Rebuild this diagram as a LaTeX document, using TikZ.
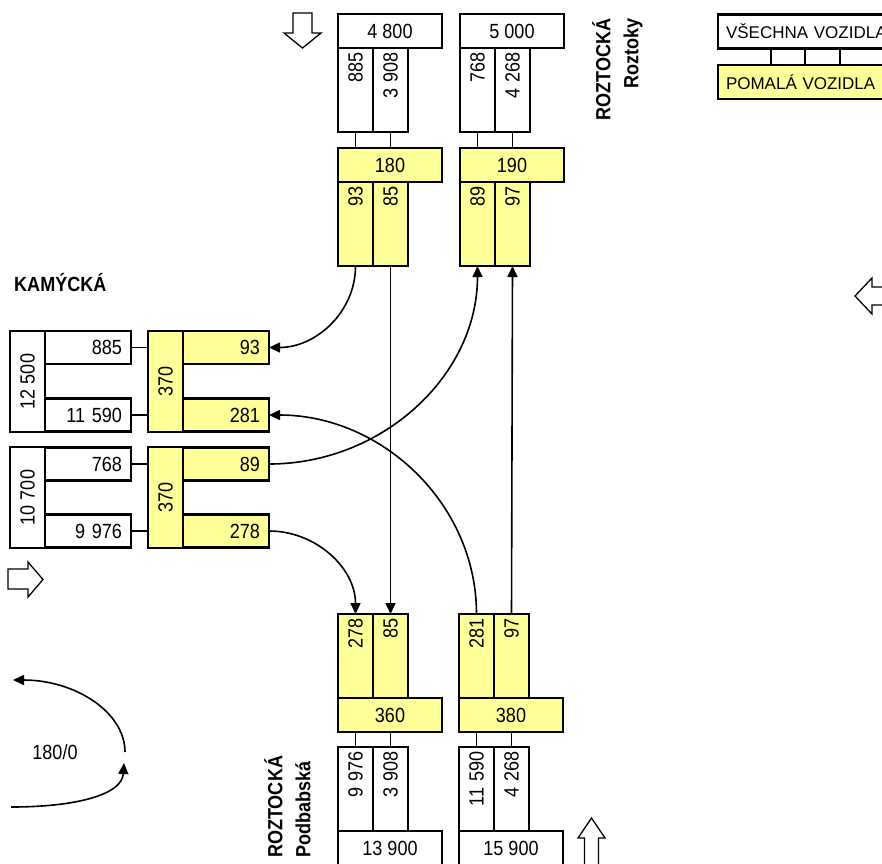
\documentclass[tikz,border=0pt]{standalone}
\usepackage{fontspec}
\setmainfont{Liberation Sans}[FakeStretch=0.88]
\newfontfamily\legendfont{Liberation Sans}
\usetikzlibrary{arrows.meta}
\definecolor{slowyel}{RGB}{255,255,153}
\newcommand{\numsize}{\fontsize{20.5}{24}\selectfont}

\begin{document}
\begin{tikzpicture}[x=1pt, y=-1pt,
    box/.style={draw, line width=2.1pt, outer sep=0pt, inner sep=0pt, font=\numsize},
    head/.style={box, minimum width=104pt, minimum height=34pt},
    col/.style={box, rotate=90, minimum height=35pt, text width=76pt, align=right, inner xsep=4pt},
    row/.style={box, minimum height=33pt, text width=68pt, align=right, inner xsep=9pt},
    tall/.style={box, rotate=90, minimum width=101pt, minimum height=35pt},
    legend/.style={box, minimum height=34pt, text width=190pt, align=left, inner xsep=8pt,
                   font=\legendfont\fontsize{17}{20}\selectfont},
    yel/.style={fill=slowyel},
    wht/.style={fill=white},
    link/.style={line width=1.8pt},
    flow/.style={line width=1.6pt, -{Triangle[length=11pt, width=10pt]}},
    hollow/.style={draw, line width=1.3pt, fill=white},
    street/.style={font=\bfseries\fontsize{20.5}{28}\selectfont, inner sep=0pt}
]
\useasboundingbox (0,0) rectangle (882,863);
\clip (0,0) rectangle (882,863);
% x of the left edges of the four groups
\def\xA{338}   % Roztoky, left
\def\xB{460}   % Roztoky, right
\def\xC{338}   % Podbaba, left
\def\xD{459}   % Podbaba, right

% Roztoky groups (top)
\node[head, wht] (tlH) at (\xA+52, 31) {4 800};
\node[col, wht] (tlW1) at (\xA+17.5, 90) {885};
\node[col, wht] (tlW2) at (\xA+52.5, 90) {3 908};
\node[head, yel] (tlY) at (\xA+52, 165) {180};
\node[col, yel] (tlY1) at (\xA+17.5, 224) {93};
\node[col, yel] (tlY2) at (\xA+52.5, 224) {85};

\node[head, wht] (trH) at (\xB+52, 31) {5 000};
\node[col, wht] (trW1) at (\xB+17.5, 90) {768};
\node[col, wht] (trW2) at (\xB+52.5, 90) {4 268};
\node[head, yel] (trY) at (\xB+52, 165) {190};
\node[col, yel] (trY1) at (\xB+17.5, 224) {89};
\node[col, yel] (trY2) at (\xB+52.5, 224) {97};

\foreach \c/\h in {tlW1/tlY, tlW2/tlY, trW1/trY, trW2/trY}
    \draw[link] (\c.west) -- (\c.west |- \h.north);

% Podbaba groups (bottom)
\node[col, yel] (blY1) at (\xC+17.5, 656) {278};
\node[col, yel] (blY2) at (\xC+52.5, 656) {85};
\node[head, yel] (blY) at (\xC+52, 715) {360};
\node[col, wht] (blW1) at (\xC+17.5, 789) {9 976};
\node[col, wht] (blW2) at (\xC+52.5, 789) {3 908};
\node[head, wht] (blH) at (\xC+52, 848) {13 900};

\node[col, yel] (brY1) at (\xD+17.5, 656) {281};
\node[col, yel] (brY2) at (\xD+52.5, 656) {97};
\node[head, yel] (brY) at (\xD+52, 715) {380};
\node[col, wht] (brW1) at (\xD+17.5, 789) {11 590};
\node[col, wht] (brW2) at (\xD+52.5, 789) {4 268};
\node[head, wht] (brH) at (\xD+52, 848) {15 900};

\foreach \c/\h in {blW1/blY, blW2/blY, brW1/brY, brW2/brY}
    \draw[link] (\c.east) -- (\c.east |- \h.south);

% Kamycka groups (left)
\node[tall, wht] (kaW) at (27.5, 381.5) {12 500};
\node[row, wht] (kaW1) at (88, 347.5) {885};
\node[row, wht] (kaW2) at (88, 415) {11 590};
\node[tall, yel] (kaY) at (165.5, 381.5) {370};
\node[row, yel] (kaY1) at (226, 347.5) {93};
\node[row, yel] (kaY2) at (226, 415) {281};

\node[tall, wht] (kbW) at (27.5, 497.5) {10 700};
\node[row, wht] (kbW1) at (88, 464) {768};
\node[row, wht] (kbW2) at (88, 531) {9 976};
\node[tall, yel] (kbY) at (165.5, 497.5) {370};
\node[row, yel] (kbY1) at (226, 464) {89};
\node[row, yel] (kbY2) at (226, 531) {278};

% the tall boxes are turned, so their left side is .north
\foreach \r/\t in {kaW1/kaY, kaW2/kaY, kbW1/kbY, kbW2/kbY}
    \draw[link] (\r.east) -- (\r.east -| \t.north);

% slow vehicle flows
\draw[flow] (tlY1.west) .. controls +(0,46) and +(47,0) .. (kaY1.east);
\draw[flow] (tlY2.west) -- (blY2.east);
\draw[flow] (kbY1.east) .. controls +(113,0) and +(0,110) .. (trY1.west);
\draw[flow] (brY2.east) -- (trY2.west);
\draw[flow] (kbY2.east) .. controls +(47,0) and +(0,-46) .. (blY1.east);
\draw[flow] (brY1.east) .. controls +(0,-110) and +(113,0) .. (kaY2.east);

% legend
\node[legend, wht] (lgW) at (821, 31.5) {VŠECHNA VOZIDLA};
\node[legend, yel] (lgY) at (821, 82) {POMALÁ VOZIDLA};
\foreach \dx in {53,87,122}
    \draw[link] ([xshift=\dx pt]lgW.south west) -- ([xshift=\dx pt]lgY.north west);

% street names
\node[street, anchor=west] (kamycka) at (14, 283) {KAMÝCKÁ};
\node[street, rotate=90, align=right, anchor=north east] (roztoky) at (592, 18)
    {ROZTOCKÁ\\Roztoky};
\node[street, rotate=90, align=left, anchor=north west] (podbaba) at (264, 858)
    {ROZTOCKÁ\\Podbabská};

% direction arrows
\draw[hollow] (293,13) -- (312,13) -- (312,33) -- (321,33) -- (302.5,48)
    -- (284,33) -- (293,33) -- cycle;
\draw[hollow] (855,296) -- (872,278) -- (872,287) -- (892,287) -- (892,305)
    -- (872,305) -- (872,314) -- cycle;
\draw[hollow] (8,569) -- (28,569) -- (28,562) -- (43,579.5) -- (28,597)
    -- (28,589) -- (8,589) -- cycle;
\draw[hollow] (591.5,818) -- (605,838) -- (598.5,838) -- (598.5,872)
    -- (584.5,872) -- (584.5,838) -- (578,838) -- cycle;

% time period
\coordinate (rotA) at (11,807);
\coordinate (rotB) at (124,763);
\coordinate (rotC) at (125,752);
\coordinate (rotD) at (13,680);
\draw[flow] (rotA) .. controls (75,807) and (122,795) .. (rotB);
\draw[flow] (rotC) .. controls (125,712) and (75,680) .. (rotD);
\node[font=\numsize] (period) at (55,752) {180/0};
\end{tikzpicture}
\end{document}
